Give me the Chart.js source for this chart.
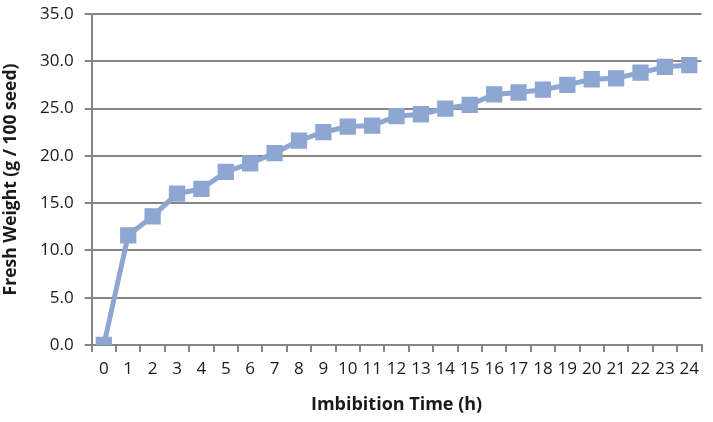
<!DOCTYPE html>
<html>
<head>
<meta charset="utf-8">
<script src="https://cdn.jsdelivr.net/npm/chart.js@4"></script>
<style>
  html, body { margin: 0; padding: 0; background: #fff; }
  #wrap { width: 713px; height: 422px; }
</style>
</head>
<body>
<div id="wrap"><canvas id="myChart"></canvas></div>
<script>
const hours = ['0','1','2','3','4','5','6','7','8','9','10','11','12','13','14','15','16','17','18','19','20','21','22','23','24']
const freshWeight = [0, 11.6, 13.6, 16.0, 16.5, 18.3, 19.2, 20.3, 21.6, 22.5, 23.1, 23.2, 24.2, 24.4, 25.0, 25.4, 26.5, 26.7, 27.0, 27.5, 28.1, 28.2, 28.8, 29.4, 29.6]
const yTicks = [0, 5, 10, 15, 20, 25, 30, 35]

;(() => {
  'use strict'

  const blue = '#8EA6D2'
  const gridGray = '#868686'
  const font = "'Open Sans', sans-serif"

  const ctx = document.getElementById('myChart')
  // eslint-disable-next-line no-unused-vars
  const myChart = new Chart(ctx, {
    type: 'line',
    data: {
      labels: hours,
      datasets: [{
        data: freshWeight,
        borderColor: blue,
        backgroundColor: blue,
        borderWidth: 5,
        lineTension: 0,
        pointStyle: 'rect',
        pointRadius: 11.5,
        pointHoverRadius: 11.5,
        pointBorderWidth: 0,
        pointBackgroundColor: blue
      }]
    },
    options: {
      responsive: true,
      maintainAspectRatio: false,
      animation: false,
      layout: { padding: { top: 14, right: 8, left: 1, bottom: 6 } },
      plugins: {
        legend: { display: false },
        tooltip: { enabled: false }
      },
      scales: {
        x: {
          offset: true,
          grid: {
            offset: true,
            drawOnChartArea: false,
            color: gridGray,
            lineWidth: 2,
            tickLength: 7
          },
          border: { color: gridGray, width: 2 },
          ticks: {
            color: '#1a1a1a',
            font: { family: font, size: 17 },
            maxRotation: 0,
            autoSkip: false,
            padding: 7
          },
          title: {
            display: true,
            text: 'Imbibition Time (h)',
            color: '#1a1a1a',
            font: { family: font, size: 18, weight: 'bold' },
            padding: { top: 8, bottom: 0 }
          }
        },
        y: {
          min: 0,
          max: 35,
          afterBuildTicks: (axis) => {
            axis.ticks = yTicks.map(v => ({ value: v }))
          },
          afterFit: (axis) => {
            axis.paddingTop = 0
          },
          grid: {
            color: gridGray,
            lineWidth: 2,
            tickLength: 7
          },
          border: { color: gridGray, width: 2 },
          ticks: {
            color: '#1a1a1a',
            font: { family: font, size: 17 },
            padding: 11,
            callback: (v) => Number(v).toFixed(1)
          },
          title: {
            display: true,
            text: 'Fresh Weight (g / 100 seed)',
            color: '#1a1a1a',
            font: { family: font, size: 17.5, weight: 'bold' },
            padding: { top: 0, bottom: 7 }
          }
        }
      }
    }
  })
})();
</script>
</body>
</html>
